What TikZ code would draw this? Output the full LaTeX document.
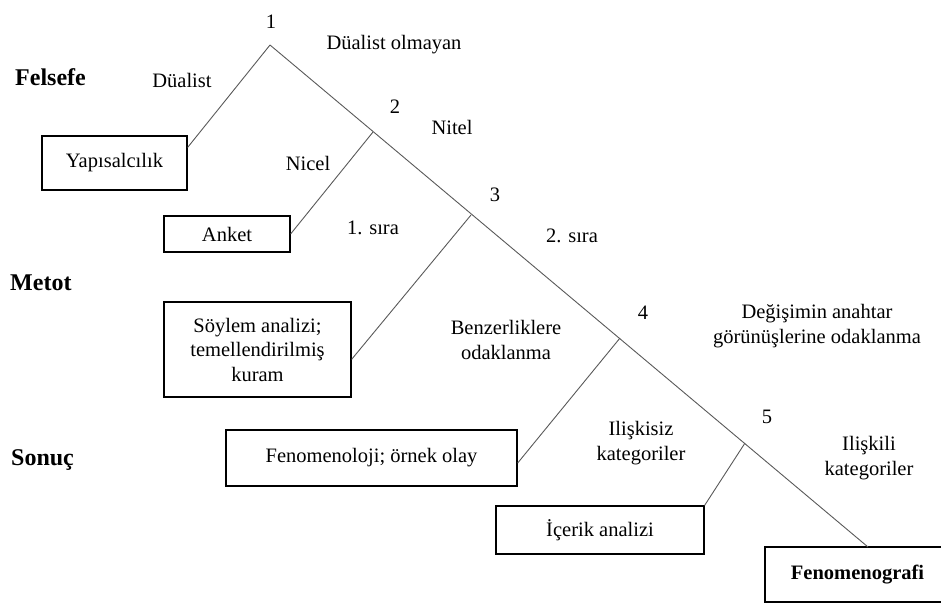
\documentclass[tikz,border=0pt]{standalone}
\usepackage{fontspec}
\setmainfont{Liberation Serif}
\begin{document}
\begin{tikzpicture}[x=1pt,y=-1pt]
  \tikzstyle{every node}=[font=\fontsize{20.5}{24.5}\selectfont,align=center,inner sep=0pt]
  \tikzstyle{box}=[draw,line width=1.2pt]
  \tikzstyle{head}=[font=\fontsize{24}{28}\selectfont\bfseries,anchor=base west]
  \tikzstyle{branch}=[draw=black!65,line width=0.9pt]
  \useasboundingbox (0,0) rectangle (941,606);
  \coordinate (p1) at (270,45);
  \coordinate (p2) at (373,132);
  \coordinate (p3) at (471,215);
  \coordinate (p4) at (620,338);
  \coordinate (p5) at (745,443);
  \coordinate (end) at (868,547);
  \node [box,minimum width=145,minimum height=54] (yap) at (114.5,163) {Yapısalcılık};
  \node [box,minimum width=126,minimum height=36] (ank) at (227,234) {Anket};
  \node [box,minimum width=187,minimum height=95] (soy) at (257.5,349.5) {Söylem analizi;\\temellendirilmiş\\kuram};
  \node [box,minimum width=291,minimum height=56] (fen) at (371.5,458) {Fenomenoloji; örnek olay};
  \node [box,minimum width=208,minimum height=48] (ice) at (600,530) {İçerik analizi};
  \node [box,minimum width=185,minimum height=55,font=\fontsize{20.5}{24.5}\selectfont\bfseries] (fgr) at (857.5,574.5) {Fenomenografi};
  \node [head] (fel) at (15,85) {Felsefe};
  \node [head] (met) at (10,290) {Metot};
  \node [head] (son) at (11,465) {Sonuç};
  \node (n1) at (271,22) {1};
  \node (n2) at (395,107) {2};
  \node (n3) at (495,195) {3};
  \node (n4) at (643,313) {4};
  \node (n5) at (767,417) {5};
  \node (dual) at (182,80) {Düalist};
  \node (ndual) at (394,45) {Düalist olmayan};
  \node (nitel) at (452,127) {Nitel};
  \node (nicel) at (308,163) {Nicel};
  \node (sira1) at (373,228) {1. sıra};
  \node (sira2) at (572,236) {2. sıra};
  \node (benz) at (506,340) {Benzerliklere\\odaklanma};
  \node (degi) at (817,326) {Değişimin anahtar\\görünüşlerine odaklanma};
  \node (ilsz) at (641,443) {Ilişkisiz\\kategoriler};
  \node (ilkl) at (869,458) {Ilişkili\\kategoriler};
  \draw [branch] (p1) -- (end);
  \draw [branch] (p1) -- (yap.12);
  \draw [branch] (p2) -- (ank.east);
  \draw [branch] (p3) -- (soy.-6);
  \draw [branch] (p4) -- (fen.-2);
  \draw [branch] (p5) -- (ice.north east);
\end{tikzpicture}
\end{document}
